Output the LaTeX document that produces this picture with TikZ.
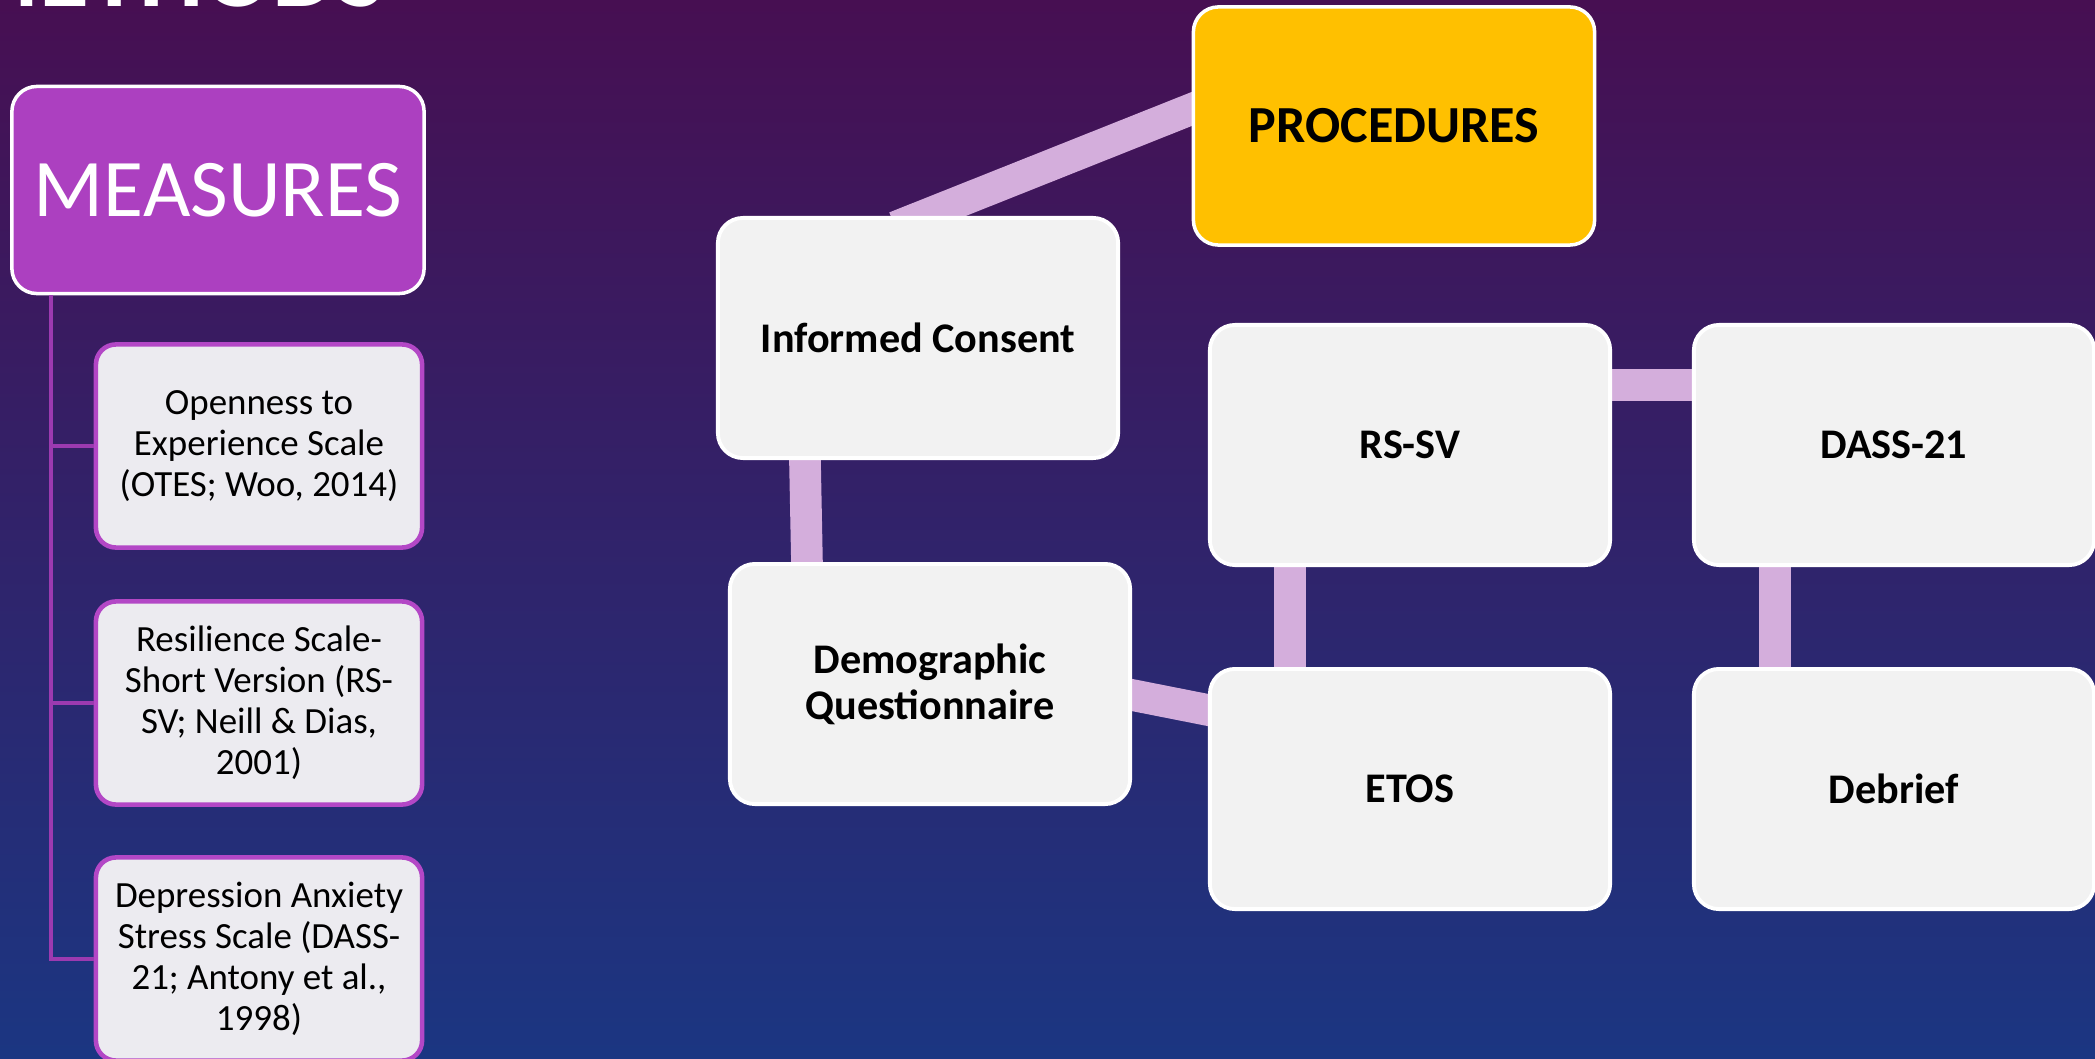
\documentclass[tikz,border=0pt]{standalone}
\usepackage{fontspec}
\setmainfont{Carlito}
\usetikzlibrary{calc,backgrounds}

\definecolor{bgtop}{HTML}{470F52}
\definecolor{bgmid}{HTML}{2D1E6C}
\definecolor{bgbot}{HTML}{1B3682}
\definecolor{measfill}{HTML}{AC40C0}
\definecolor{measline}{HTML}{B347C6}
\definecolor{trunkcol}{HTML}{9C3AB0}
\definecolor{measgray}{HTML}{ECEBF0}
\definecolor{boxgray}{HTML}{F2F2F2}
\definecolor{linkcol}{HTML}{D4AEDC}
\definecolor{gold}{HTML}{FFC000}

\begin{document}
\begin{tikzpicture}[x=0.01cm,y=-0.01cm,
  headbox/.style={draw=white,line width=1pt,rounded corners=0.25cm,inner sep=0pt},
  measbox/.style={draw=measline,line width=1.3pt,fill=measgray,rounded corners=0.2cm,
    minimum width=3.26cm,minimum height=2.03cm,align=center,inner sep=0pt,
    font=\fontsize{10.5pt}{11.7pt}\selectfont},
  stepbox/.style={draw=white,line width=1.1pt,fill=boxgray,rounded corners=0.25cm,
    minimum width=4cm,minimum height=2.4cm,align=center,inner sep=0pt,
    font=\bfseries\fontsize{12pt}{13.1pt}\selectfont},
  link/.style={line width=9pt,color=linkcol,shorten <=-0.3cm,shorten >=-0.3cm}]

\useasboundingbox (0,0) rectangle (2095,1058);

% title, cut by the top edge
\node[anchor=base east,inner sep=0pt,text=white,font=\bfseries\fontsize{29pt}{31pt}\selectfont] (title) at (386,7) {METHODS};

% measures
\node[headbox,fill=measfill,minimum width=4.12cm,minimum height=2.07cm,text=white,
  font=\fontsize{23.3pt}{26pt}\selectfont] (measures) at (218,190) {MEASURES};

\node[measbox] (otes) at (259,446) {Openness to\\Experience Scale\\(OTES; Woo, 2014)};
\node[measbox] (rsscale) at (259,703) {Resilience Scale-\\Short Version (RS-\\SV; Neill \& Dias,\\2001)};
\node[measbox] (dassscale) at (259,959) {Depression Anxiety\\Stress Scale (DASS-\\21; Antony et al.,\\1998)};

\coordinate (trunk) at ($(measures.south west)+(41,0)$);
\draw[trunkcol,line width=1.2pt] (trunk) |- (otes.west);
\draw[trunkcol,line width=1.2pt] (trunk) |- (rsscale.west);
\draw[trunkcol,line width=1.2pt] (trunk) |- (dassscale.west);

% procedures
\node[headbox,fill=gold,minimum width=4.01cm,minimum height=2.38cm,
  font=\bfseries\fontsize{14.8pt}{16pt}\selectfont] (proc) at (1394,126) {PROCEDURES};

\node[stepbox] (consent) at (918,338) {Informed Consent};
\node[stepbox] (demo) at (930,684) {Demographic\\Questionnaire};
\node[stepbox] (rssv) at (1410,445) {RS-SV};
\node[stepbox] (dass) at (1894,445) {DASS-21};
\node[stepbox] (etos) at (1410,789) {ETOS};
\node[stepbox] (debrief) at (1894,789) {Debrief};

\begin{scope}[on background layer]
\shade[top color=bgtop,middle color=bgmid,bottom color=bgbot] (0,0) rectangle (2095,1058);
\draw[link] ($(consent.north)+(5,0)$) -- ($(proc.west)+(0,-17)$);
\draw[link] ($(consent.south west)+(89,0)$) -- ($(demo.north west)+(79,0)$);
\draw[link] ($(demo.east)+(0,11)$) -- ($(etos.west)+(0,-79)$);
\draw[link] ($(rssv.south west)+(82,0)$) -- ($(etos.north west)+(82,0)$);
\draw[link] ($(rssv.east)+(0,-60)$) -- ($(dass.west)+(0,-60)$);
\draw[link] ($(dass.south west)+(83,0)$) -- ($(debrief.north west)+(83,0)$);
\end{scope}

\end{tikzpicture}
\end{document}
